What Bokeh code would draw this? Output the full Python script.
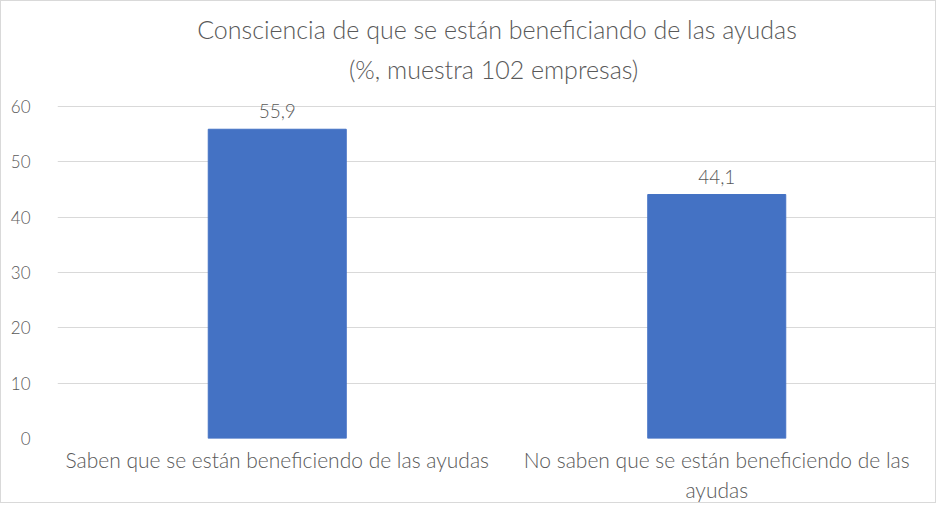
from bokeh.plotting import figure
from bokeh.models import ColumnDataSource, Range1d, FixedTicker, Title
from bokeh.core.properties import value
from bokeh.embed import file_html
from bokeh.resources import INLINE

categories = ["Saben que se están beneficiendo de las ayudas",
              "No saben que se están beneficiendo de las\nayudas"]
values = [55.9, 44.1]
value_labels = ["55,9", "44,1"]
positions = [0.5, 1.5]
y_ticks = [0, 10, 20, 30, 40, 50, 60]
title_line1 = "Consciencia de que se están beneficiando de las ayudas"
title_line2 = "(%, muestra  102 empresas)"

FONT = "'Lato Light', Lato"
GREY = "#595959"

src = ColumnDataSource(dict(x=positions, top=values, lab=value_labels))

p = figure(width=936, height=503, output_backend="svg", toolbar_location=None,
           x_range=Range1d(0, 2), y_range=Range1d(0, 62),
           min_border_left=56, min_border_right=1, min_border_bottom=65, min_border_top=94)

p.title.text = title_line1
p.title.align = "center"
p.title.text_font = FONT
p.title.text_font_size = "25px"
p.title.text_font_style = "normal"
p.title.text_color = GREY
p.title.standoff = 0
t2 = Title(text=title_line2, align="center", vertical_align="top", text_font=FONT,
           text_font_size="25px", text_font_style="normal", text_color=GREY, standoff=20)
p.add_layout(t2, "above")

p.vbar(x="x", top="top", width=0.314, bottom=0, source=src,
       fill_color="#4472C4", line_color="#4472C4")
p.text(x="x", y="top", text="lab", source=src, text_align="center",
       text_baseline="bottom", y_offset=-11, text_font=value(FONT), text_font_size="19px",
       text_color=GREY)

p.xaxis.ticker = FixedTicker(ticks=positions)
p.xaxis.major_label_overrides = {pos: c for pos, c in zip(positions, categories)}
p.xaxis.axis_line_color = None
p.xaxis.major_tick_line_color = None
p.xaxis.minor_tick_line_color = None
p.xaxis.major_label_text_font = FONT
p.xaxis.major_label_text_font_size = "21px"
p.xaxis.major_label_text_color = GREY
p.xaxis.major_label_standoff = 2

p.yaxis.ticker = FixedTicker(ticks=y_ticks)
p.yaxis.axis_line_color = None
p.yaxis.major_tick_line_color = None
p.yaxis.minor_tick_line_color = None
p.yaxis.major_label_text_font = FONT
p.yaxis.major_label_text_font_size = "17px"
p.yaxis.major_label_text_color = GREY
p.yaxis.major_label_standoff = 21

p.xgrid.grid_line_color = None
p.ygrid.grid_line_color = "#D9D9D9"
p.ygrid.grid_line_width = 1
p.outline_line_color = None
p.styles = {"border": "1px solid #D9D9D9"}

open("out.html", "w").write(file_html(p, INLINE))
